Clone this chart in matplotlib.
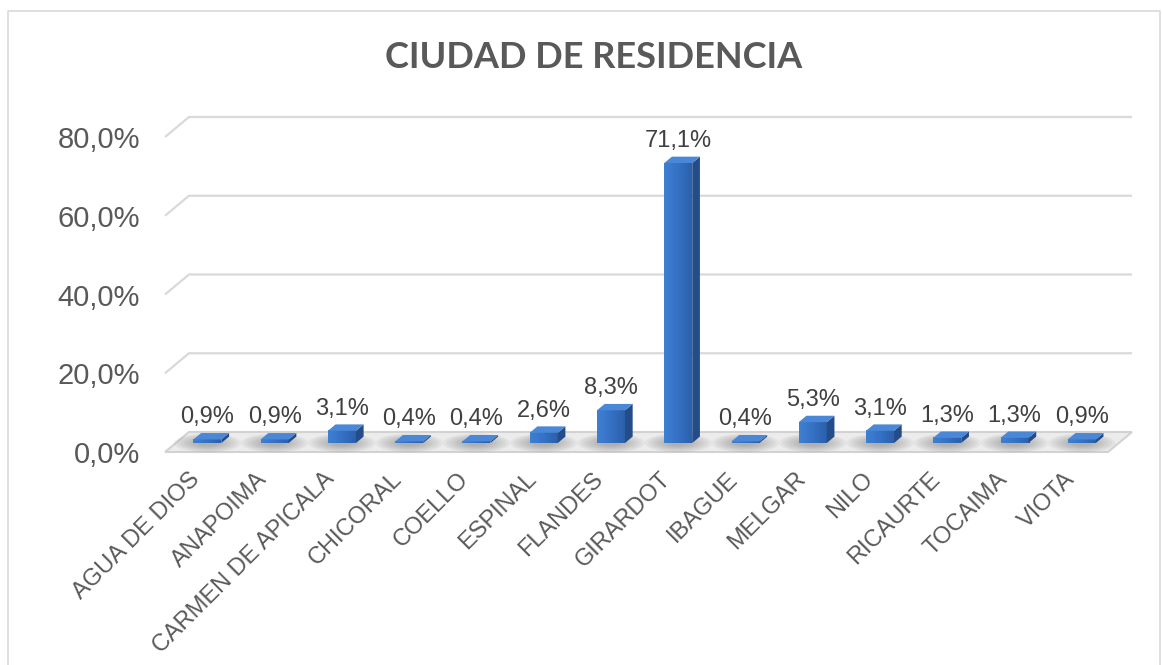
import matplotlib
matplotlib.use("Agg")
import matplotlib.pyplot as plt
import numpy as np
from matplotlib.patches import Polygon, Ellipse
from matplotlib.lines import Line2D
from matplotlib.colors import LinearSegmentedColormap

# ---- data ----
categories = ["AGUA DE DIOS", "ANAPOIMA", "CARMEN DE APICALA", "CHICORAL", "COELLO",
              "ESPINAL", "FLANDES", "GIRARDOT", "IBAGUE", "MELGAR", "NILO",
              "RICAURTE", "TOCAIMA", "VIOTA"]
values = [0.9, 0.9, 3.1, 0.4, 0.4, 2.6, 8.3, 71.1, 0.4, 5.3, 3.1, 1.3, 1.3, 0.9]
value_labels = ["0,9%", "0,9%", "3,1%", "0,4%", "0,4%", "2,6%", "8,3%", "71,1%",
                "0,4%", "5,3%", "3,1%", "1,3%", "1,3%", "0,9%"]
yticks = [0, 20, 40, 60, 80]
ytick_labels = ["0,0%", "20,0%", "40,0%", "60,0%", "80,0%"]
title = "CIUDAD DE RESIDENCIA"

W_PX, H_PX = 1162, 665
fig = plt.figure(figsize=(W_PX / 100, H_PX / 100), dpi=100)
fig.patch.set_facecolor("white")

# outer border (left, top, right)
bx0, bx1, by1 = 8 / W_PX, 1160 / W_PX, 1 - 11 / H_PX
fig.add_artist(Line2D([bx0, bx0, bx1, bx1], [0, by1, by1, 0], transform=fig.transFigure,
                      color="#d9d9d9", lw=1.2))

# front plane of the plot
left, right = 165 / W_PX, 1108 / W_PX
bottom, top = 1 - 452 / H_PX, 1 - 137 / H_PX
ax = fig.add_axes([left, bottom, right - left, top - bottom])
ax.set_facecolor("none")
x0, x1 = -0.47, 13.55
ax.set_xlim(x0, x1)
ax.set_ylim(0, 80)
for s in ax.spines.values():
    s.set_visible(False)

pxx = (right - left) * W_PX / (x1 - x0)   # px per x unit
pxy = (top - bottom) * H_PX / 80.0        # px per y unit
DX = 24 / pxx
DY = 20 / pxy

grid_c = "#d9d9d9"
# back-wall gridlines with slanted left segment
for yv in yticks[1:]:
    ax.plot([x0, x0 + DX, x1 + DX], [yv, yv + DY, yv + DY], color=grid_c, lw=1.6,
            clip_on=False, zorder=1, solid_capstyle="butt")

# floor
floor = Polygon([(x0, 0), (x1, 0), (x1 + DX, DY), (x0 + DX, DY)], closed=True,
                facecolor="#ececec", edgecolor="#d2d2d2", lw=1.5, clip_on=False, zorder=1)
ax.add_patch(floor)

x = np.arange(len(categories))
f = 0.45          # depth position of bars
d = 0.32          # bar depth as fraction of floor depth
bw = 28 / pxx

# shadows on floor
for xi in x:
    cx = xi + f * DX
    cy = f * DY
    for k in range(8):
        s = 1 - k * 0.1
        e = Ellipse((cx, cy), width=1.0 * s, height=DY * 0.95 * s, facecolor="#6a6a6a",
                    alpha=0.07, edgecolor="none", clip_on=False, zorder=2)
        ax.add_patch(e)

front_cmap = LinearSegmentedColormap.from_list("fr", ["#3f80d3", "#3571c4", "#2b60ab"])
bars = ax.bar(x + f * DX, values, width=bw, bottom=f * DY, color="#3470c4",
              edgecolor="none", zorder=4, clip_on=False)
grad = np.linspace(0, 1, 64).reshape(1, -1)
for b, v in zip(bars, values):
    xl = b.get_x()
    xr = xl + b.get_width()
    yb = b.get_y()
    yt = yb + b.get_height()
    im = ax.imshow(grad, extent=[xl, xr, yb, yt], aspect="auto", cmap=front_cmap,
                   zorder=4.1, clip_on=False)
    im.set_clip_path(b)
    side = Polygon([(xr, yb), (xr + d * DX, yb + d * DY), (xr + d * DX, yt + d * DY), (xr, yt)],
                   closed=True, facecolor="#234c88", edgecolor="none", zorder=4.2, clip_on=False)
    topf = Polygon([(xl, yt), (xr, yt), (xr + d * DX, yt + d * DY), (xl + d * DX, yt + d * DY)],
                   closed=True, facecolor="#4a87d6", edgecolor="none", zorder=4.3, clip_on=False)
    ax.add_patch(side)
    ax.add_patch(topf)

# value labels
for b, lab in zip(bars, value_labels):
    cx = b.get_x() + b.get_width() / 2
    yt = b.get_y() + b.get_height()
    ax.annotate(lab, (cx, yt), xytext=(0, 8), textcoords="offset points",
                ha="center", va="bottom", fontsize=17, color="#404040",
                family="Liberation Sans", zorder=6, annotation_clip=False)

# axes ticks
ax.set_yticks(yticks)
ax.set_yticklabels(ytick_labels, fontsize=21, color="#595959", family="Liberation Sans")
ax.tick_params(axis="y", length=0, pad=18)
ax.set_xticks(x)
ax.set_xticklabels(categories, rotation=45, ha="right", va="center",
                   rotation_mode="anchor", fontsize=17, color="#595959",
                   family="Liberation Sans")
ax.tick_params(axis="x", length=0, pad=17)

fig.text(594 / W_PX, 1 - 58 / H_PX, title, ha="center", va="center",
         fontsize=26, fontweight="bold", color="#595959", family="Lato")

fig.savefig("out.png", dpi=100)
